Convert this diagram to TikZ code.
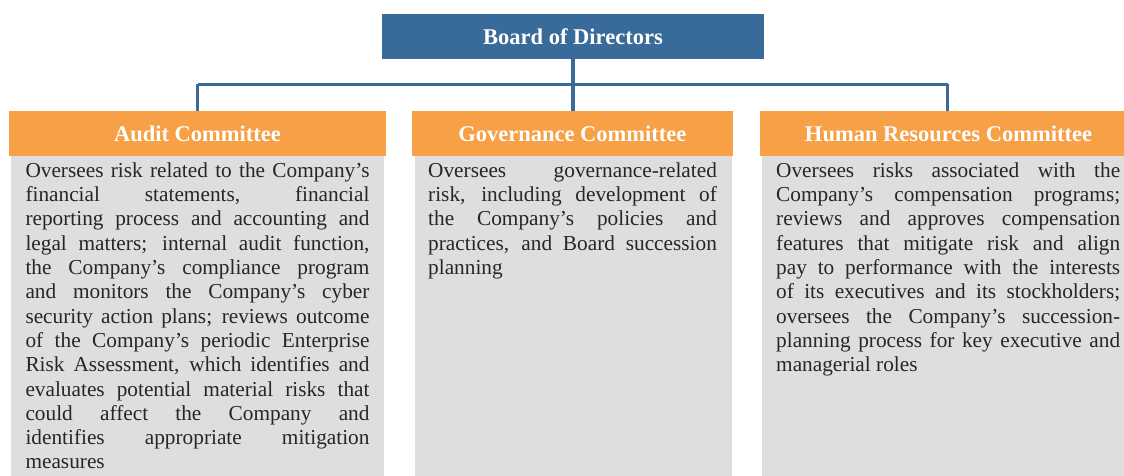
\documentclass[tikz,border=0pt]{standalone}
\usepackage{fontspec}
\setmainfont{Liberation Serif}
\definecolor{bblue}{HTML}{386A9A}
\definecolor{borange}{HTML}{F7A045}
\definecolor{bgray}{HTML}{DEDEDE}
\definecolor{btext}{HTML}{262626}
\newlength\lw
\newcommand\jl[1]{\hbox to \lw{\spaceskip=0.25em plus 1fil\relax #1}}
\newcommand\lastline[1]{\hbox to \lw{#1\hfil}}
\newcommand\bodytext[2]{\setlength\lw{#1}\vtop{\fontsize{21.3}{24.3}\selectfont #2}}
\tikzset{
  bodybox/.style={fill=bgray, draw=none, inner sep=0, anchor=north west},
  hdr/.style={fill=borange, draw=none, inner sep=0, text=white, font=\fontsize{22.5}{26}\selectfont\bfseries},
  boardbox/.style={fill=bblue, draw=none, inner sep=0, text=white, font=\fontsize{22.5}{26}\selectfont\bfseries},
  conn/.style={draw=bblue, line width=3.4pt},
  btxt/.style={anchor=base west, inner sep=0, text=btext}
}
\begin{document}
\begin{tikzpicture}[x=1pt,y=-1pt]
\useasboundingbox (0,0) rectangle (1124,476);
% bodies
\node[bodybox, minimum width=373pt, minimum height=322pt] (audB) at (11,156) {};
\node[bodybox, minimum width=316.7pt, minimum height=322pt] (govB) at (415,156) {};
\node[bodybox, minimum width=373pt, minimum height=322pt] (hrB) at (762,156) {};
% headers
\node[hdr, minimum width=377pt, minimum height=45pt] (audH) at (197.5,133.5) {Audit Committee};
\node[hdr, minimum width=320.7pt, minimum height=45pt] (govH) at (572.4,133.5) {Governance Committee};
\node[hdr, minimum width=377pt, minimum height=45pt] (hrH) at (948.5,133.5) {Human Resources Committee};
% board
\node[boardbox, minimum width=382pt, minimum height=44.7pt] (board) at (573,36.3) {Board of Directors};
% connectors
\coordinate (busL) at (197.7,84.5);
\coordinate (busR) at (947.7,84.5);
\draw[conn] (busL) -- (busR);
\draw[conn] (board.south) -- (board.south |- govH.north);
\draw[conn] (busL) -- (busL |- audH.north);
\draw[conn] (busR) -- (busR |- hrH.north);
% texts
\node[btxt] (audT) at (25.3,177.3) {\bodytext{344pt}{%
\jl{Oversees risk related to the Company’s}
\jl{financial statements, financial}
\jl{reporting process and accounting and}
\jl{legal matters; internal audit function,}
\jl{the Company’s compliance program}
\jl{and monitors the Company’s cyber}
\jl{security action plans; reviews outcome}
\jl{of the Company’s periodic Enterprise}
\jl{Risk Assessment, which identifies and}
\jl{evaluates potential material risks that}
\jl{could affect the Company and}
\jl{identifies appropriate mitigation}
\lastline{measures}}};
\node[btxt] (govT) at (428,177.3) {\bodytext{288.7pt}{%
\jl{Oversees governance-related}
\jl{risk, including development of}
\jl{the Company’s policies and}
\jl{practices, and Board succession}
\lastline{planning}}};
\node[btxt] (hrT) at (776,177.3) {\bodytext{344pt}{%
\jl{Oversees risks associated with the}
\jl{Company’s compensation programs;}
\jl{reviews and approves compensation}
\jl{features that mitigate risk and align}
\jl{pay to performance with the interests}
\jl{of its executives and its stockholders;}
\jl{oversees the Company’s succession-}
\jl{planning process for key executive and}
\lastline{managerial roles}}};
\end{tikzpicture}
\end{document}
